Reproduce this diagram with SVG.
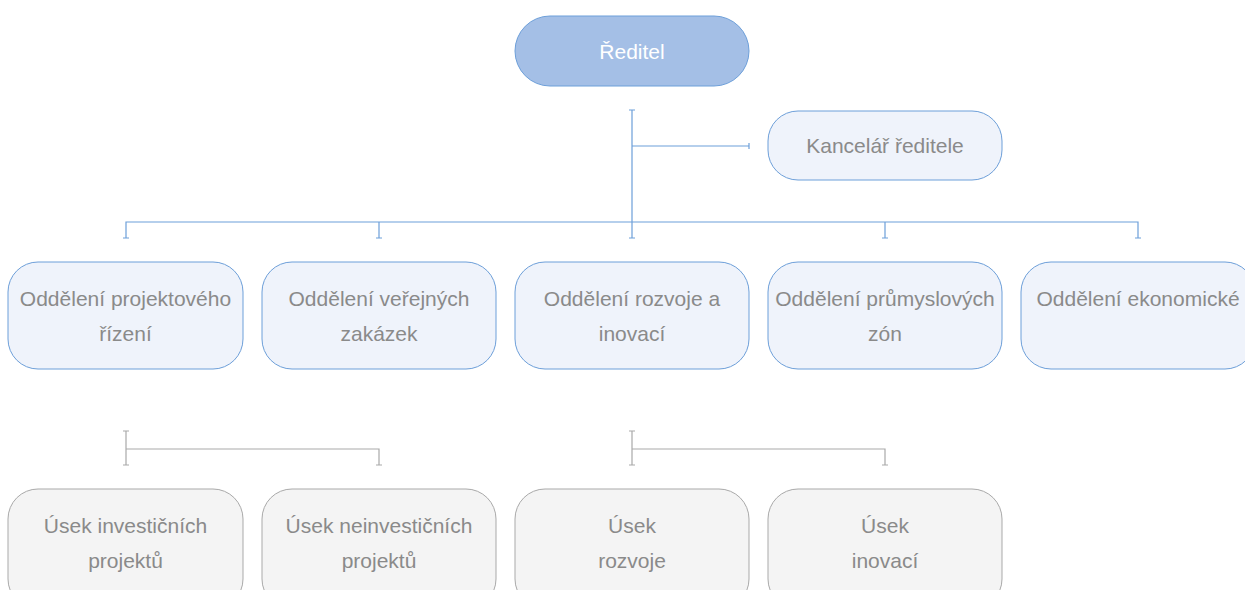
<svg xmlns="http://www.w3.org/2000/svg" width="1245" height="590" viewBox="0 0 1245 590">
<style>
.b{fill:#eff3fb;stroke:#6d9fd9;stroke-width:1}
.g{fill:#f4f4f4;stroke:#a9a9a9;stroke-width:1}
.top{fill:#a4bfe6;stroke:#6d9fd9;stroke-width:1}
.t{font-family:"Liberation Sans",Arial,sans-serif;font-size:21px;fill:#8a8a8a;text-anchor:middle}
.tw{font-family:"Liberation Sans",Arial,sans-serif;font-size:21px;fill:#ffffff;text-anchor:middle}
.cb{stroke:#6d9fd9;stroke-width:1.2;fill:none}
.cg{stroke:#a9a9a9;stroke-width:1.2;fill:none}
</style>
<rect width="1245" height="590" fill="#ffffff"/>
<g id="connectors">
  <path class="cb" d="M632 110V238M629 110H635M629 238H635"/>
  <path class="cb" d="M632 146H749M749 143V149"/>
  <path class="cb" d="M126 238V222H1138V238"/>
  <path class="cb" d="M379 222V238M885 222V238"/>
  <path class="cb" d="M123 238H129M376 238H382M882 238H888M1135 238H1141"/>
  <path class="cg" d="M126 431V465M123 431H129M123 465H129"/>
  <path class="cg" d="M126 449H379V465M376 465H382"/>
  <path class="cg" d="M632 431V465M629 431H635M629 465H635"/>
  <path class="cg" d="M632 449H885V465M882 465H888"/>
</g>
<g id="reditel">
  <rect class="top" x="515" y="16" width="234" height="70" rx="35"/>
  <text class="tw" x="632" y="59">Ředitel</text>
</g>
<g id="kancelar">
  <rect class="b" x="768" y="111" width="234" height="69" rx="30"/>
  <text class="t" x="885" y="153">Kancelář ředitele</text>
</g>
<g id="odd-projektoveho">
  <rect class="b" x="8" y="262" width="235" height="107" rx="30"/>
  <text class="t" x="125.5" y="306">Oddělení projektového</text>
  <text class="t" x="125.5" y="341">řízení</text>
</g>
<g id="odd-verejnych">
  <rect class="b" x="262" y="262" width="234" height="107" rx="30"/>
  <text class="t" x="379" y="306">Oddělení veřejných</text>
  <text class="t" x="379" y="341">zakázek</text>
</g>
<g id="odd-rozvoje">
  <rect class="b" x="515" y="262" width="234" height="107" rx="30"/>
  <text class="t" x="632" y="306">Oddělení rozvoje a</text>
  <text class="t" x="632" y="341">inovací</text>
</g>
<g id="odd-prumyslovych">
  <rect class="b" x="768" y="262" width="234" height="107" rx="30"/>
  <text class="t" x="885" y="306">Oddělení průmyslových</text>
  <text class="t" x="885" y="341">zón</text>
</g>
<g id="odd-ekonomicke">
  <rect class="b" x="1021" y="262" width="234" height="107" rx="30"/>
  <text class="t" x="1138" y="306">Oddělení ekonomické</text>
</g>
<g id="usek-investicnich">
  <rect class="g" x="8" y="489" width="235" height="120" rx="30"/>
  <text class="t" x="125.5" y="533">Úsek investičních</text>
  <text class="t" x="125.5" y="568">projektů</text>
</g>
<g id="usek-neinvesticnich">
  <rect class="g" x="262" y="489" width="234" height="120" rx="30"/>
  <text class="t" x="379" y="533">Úsek neinvestičních</text>
  <text class="t" x="379" y="568">projektů</text>
</g>
<g id="usek-rozvoje">
  <rect class="g" x="515" y="489" width="234" height="120" rx="30"/>
  <text class="t" x="632" y="533">Úsek</text>
  <text class="t" x="632" y="568">rozvoje</text>
</g>
<g id="usek-inovaci">
  <rect class="g" x="768" y="489" width="234" height="120" rx="30"/>
  <text class="t" x="885" y="533">Úsek</text>
  <text class="t" x="885" y="568">inovací</text>
</g>
</svg>
